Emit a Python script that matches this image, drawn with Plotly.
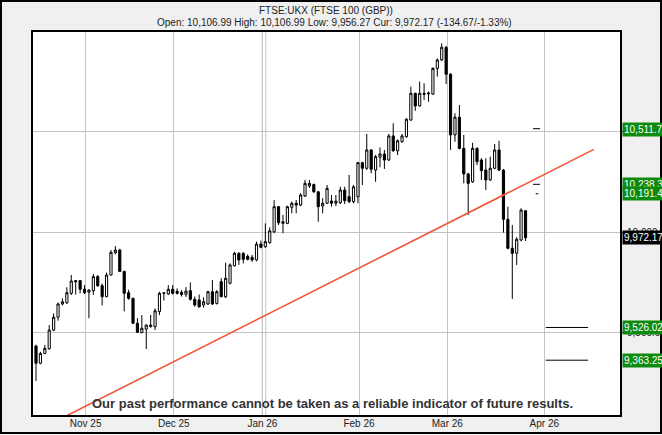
import plotly.graph_objects as go

# --- text -------------------------------------------------------------------
title_main = "FTSE:UKX (FTSE 100 (GBP))"
title_quote = "Open: 10,106.99 High: 10,106.99 Low: 9,956.27 Cur: 9,972.17 (-134.67/-1.33%)"
disclaimer = "Our past performance cannot be taken as a reliable indicator of future results."

# --- daily candles ----------------------------------------------------------
opens = [9434, 9348, 9397, 9420, 9513, 9577, 9643, 9649, 9696, 9759,
         9759, 9717, 9702, 9709, 9779, 9734, 9679, 9787, 9898, 9911,
         9805, 9699, 9671, 9547, 9500, 9518, 9530, 9530, 9605, 9696,
         9693, 9716, 9706, 9701, 9691, 9709, 9666, 9663, 9638, 9643,
         9704, 9646, 9754, 9679, 9746, 9833, 9895, 9895, 9880, 9875,
         9862, 9941, 9928, 9948, 10002, 10127, 10044, 10044, 10124, 10144,
         10135, 10180, 10230, 10237, 10201, 10130, 10144, 10155, 10144, 10147,
         10210, 10177, 10152, 10177, 10346, 10318, 10409, 10309, 10373, 10389,
         10359, 10479, 10405, 10450, 10475, 10558, 10691, 10628, 10691, 10688,
         10687, 10815, 10857, 10920, 10786, 10484, 10572, 10417, 10290, 10251,
         10417, 10359, 10309, 10260, 10318, 10409, 10309, 10064, 9920, 9895,
         9961, 10106.99]
highs = [9440, 9405, 9439, 9538, 9596, 9650, 9671, 9726, 9787, 9762,
         9762, 9737, 9716, 9792, 9787, 9745, 9799, 9911, 9931, 9918,
         9808, 9714, 9674, 9572, 9588, 9540, 9588, 9621, 9704, 9700,
         9737, 9737, 9720, 9711, 9727, 9750, 9680, 9690, 9676, 9709,
         9762, 9712, 9771, 9848, 9845, 9903, 9900, 9900, 9890, 9887,
         9953, 9958, 10044, 10024, 10160, 10130, 10086, 10132, 10152, 10160,
         10194, 10260, 10260, 10242, 10205, 10169, 10235, 10185, 10185, 10226,
         10226, 10285, 10235, 10350, 10350, 10489, 10414, 10385, 10422, 10409,
         10489, 10542, 10462, 10489, 10567, 10724, 10694, 10749, 10741, 10700,
         10820, 10865, 10940, 10927, 10791, 10592, 10633, 10484, 10295, 10445,
         10422, 10368, 10368, 10376, 10439, 10455, 10314, 10127, 10036, 9975,
         10119, 10106.99]
lows = [9260, 9343, 9393, 9416, 9508, 9560, 9636, 9643, 9688, 9690,
        9696, 9692, 9572, 9688, 9728, 9636, 9677, 9785, 9890, 9803,
        9606, 9664, 9543, 9500, 9498, 9419, 9525, 9513, 9588, 9660,
        9688, 9690, 9690, 9680, 9678, 9660, 9629, 9624, 9624, 9638,
        9638, 9640, 9676, 9672, 9740, 9830, 9837, 9845, 9860, 9853,
        9855, 9920, 9922, 9943, 9995, 10036, 9995, 10040, 10094, 10094,
        10130, 10175, 10220, 10196, 10052, 10094, 10140, 10127, 10130, 10140,
        10140, 10145, 10144, 10144, 10235, 10310, 10293, 10251, 10323, 10315,
        10355, 10400, 10384, 10445, 10470, 10555, 10604, 10625, 10658, 10649,
        10684, 10774, 10852, 10737, 10409, 10450, 10412, 10243, 10086, 10246,
        10334, 10260, 10210, 10255, 10313, 10304, 9998, 9915, 9668, 9837,
        9955, 9956.27]
closes = [9348, 9397, 9422, 9513, 9577, 9643, 9654, 9699, 9757, 9754,
          9716, 9699, 9712, 9779, 9734, 9679, 9787, 9900, 9911, 9805,
          9696, 9671, 9547, 9502, 9522, 9538, 9538, 9609, 9696, 9698,
          9716, 9696, 9696, 9690, 9707, 9666, 9638, 9629, 9654, 9704,
          9643, 9704, 9679, 9771, 9837, 9895, 9862, 9865, 9865, 9862,
          9941, 9925, 9953, 10007, 10127, 10047, 10052, 10127, 10144, 10135,
          10185, 10243, 10243, 10201, 10127, 10144, 10218, 10144, 10155, 10210,
          10157, 10152, 10226, 10346, 10318, 10409, 10313, 10376, 10389, 10359,
          10479, 10405, 10455, 10479, 10562, 10691, 10628, 10691, 10686, 10692,
          10815, 10857, 10920, 10786, 10484, 10572, 10417, 10290, 10243, 10417,
          10351, 10306, 10260, 10318, 10409, 10309, 10064, 9920, 9895, 9965,
          10110, 9972.17]
bar_index = list(range(len(closes)))

# month ticks (trading-day positions)
month_labels = ["Nov 25", "Dec 25", "Jan 26", "Feb 26", "Mar 26", "Apr 26"]
month_pos = [11.25, 31.25, 51.34, 73.24, 93.27, 115.26]
jan_grid_pos = 52.1

price_ticks = [9500, 10000, 10500]
price_ticktext = ["9,500.0", "10,000.0", "10,500.0"]

# trend line
trend_x = [0, 126.5]
trend_y = [9010, 10412]

# target marks and their price labels
upper_marks = [10515, 10238.3, 10191.4]
lower_marks = [9526.02, 9363.25]
label_levels = [10511.75, 10238.33, 10191.45, 9526.02, 9363.25]
label_texts = ["10,511.75", "10,238.33", "10,191.45", "9,526.02", "9,363.25"]
current_price = 9972.17
current_text = "9,972.17"

FONT = "Arial, Liberation Sans, sans-serif"
W, H = 662, 435
L, R, T, B = 32, 41, 31, 19
pw, ph = W - L - R, H - T - B

fig = go.Figure()

fig.add_trace(go.Scatter(x=trend_x, y=trend_y, mode="lines",
                         line=dict(color="#f2573a", width=1.6),
                         hoverinfo="skip", showlegend=False))

fig.add_trace(go.Candlestick(
    x=bar_index, open=opens, high=highs, low=lows, close=closes,
    increasing=dict(line=dict(color="black", width=1), fillcolor="white"),
    decreasing=dict(line=dict(color="black", width=1), fillcolor="black"),
    whiskerwidth=0, showlegend=False))

# short target dashes
mx, my = [], []
spans = [(112.7, 114.3), (112.7, 114.3), (113.3, 113.9)]
for lvl, (a, b) in zip(upper_marks, spans):
    mx += [a, b, None]
    my += [lvl, lvl, None]
for lvl in lower_marks:
    mx += [115.6, 125.2, None]
    my += [lvl, lvl, None]
fig.add_trace(go.Scatter(x=mx, y=my, mode="lines", line=dict(color="black", width=1),
                         hoverinfo="skip", showlegend=False))

shapes = [
    dict(type="line", xref="x", yref="paper", x0=month_pos[2], x1=month_pos[2], y0=0, y1=1,
         line=dict(color="#6e6e6e", width=1), layer="below"),
    dict(type="line", xref="x", yref="paper", x0=jan_grid_pos, x1=jan_grid_pos, y0=0, y1=1,
         line=dict(color="#c4c4c4", width=1), layer="below"),
    dict(type="rect", xref="paper", yref="paper", x0=0, x1=1, y0=0, y1=1,
         line=dict(color="black", width=2)),
    dict(type="rect", xref="paper", yref="paper",
         x0=(1 - L) / pw, x1=(W - 1 - L) / pw, y0=(ph + T - (H - 2)) / ph, y1=(ph + T - 1) / ph,
         line=dict(color="black", width=2)),
]

annotations = [
    dict(text=title_main, xref="paper", yref="paper", x=(326 - L) / pw, y=(ph + T - 10) / ph,
         showarrow=False, xanchor="center", yanchor="middle", font=dict(family=FONT, size=10, color="#222")),
    dict(text=title_quote, xref="paper", yref="paper", x=(334 - L) / pw, y=(ph + T - 23) / ph,
         showarrow=False, xanchor="center", yanchor="middle", font=dict(family=FONT, size=10, color="#222")),
    dict(text="<b>" + disclaimer + "</b>", xref="paper", yref="paper", x=(332 - L) / pw,
         y=(ph + T - 403) / ph, showarrow=False, xanchor="center", yanchor="middle",
         font=dict(family=FONT, size=13, color="#333")),
]
for lvl, txt in zip(label_levels, label_texts):
    annotations.append(dict(text=txt, xref="paper", yref="y", x=1 + 0.5 / pw, y=lvl,
                            xanchor="left", yanchor="middle", showarrow=False,
                            bgcolor="#0e8a0e", borderpad=1,
                            font=dict(family=FONT, size=10, color="white")))
annotations.append(dict(text=current_text, xref="paper", yref="y", x=1 + 0.5 / pw, y=current_price,
                        xanchor="left", yanchor="middle", showarrow=False,
                        bgcolor="black", borderpad=1,
                        font=dict(family=FONT, size=10, color="white")))

fig.update_layout(
    width=W, height=H,
    margin=dict(l=L, r=R, t=T, b=B, autoexpand=False),
    paper_bgcolor="#f0f0f0", plot_bgcolor="white",
    shapes=shapes, annotations=annotations,
    font=dict(family=FONT, size=10, color="#222"),
    xaxis=dict(range=[-0.907, 132.65], tickvals=month_pos, ticktext=month_labels,
               showgrid=True, gridcolor="#c4c4c4", gridwidth=1, zeroline=False,
               rangeslider=dict(visible=False), ticks="", fixedrange=True, automargin=False,
               tickfont=dict(family=FONT, size=10, color="#222")),
    yaxis=dict(range=[9085.6, 11001], side="right", tickvals=price_ticks, ticktext=price_ticktext,
               showgrid=True, gridcolor="#c4c4c4", gridwidth=1, zeroline=False,
               ticks="outside", ticklen=3, tickcolor="black", fixedrange=True, automargin=False,
               tickfont=dict(family=FONT, size=10, color="#222")),
    showlegend=False,
)

fig.write_html("out.html", config={"displayModeBar": False},
               post_script="document.body.style.margin='0';document.body.style.overflow='hidden';")
